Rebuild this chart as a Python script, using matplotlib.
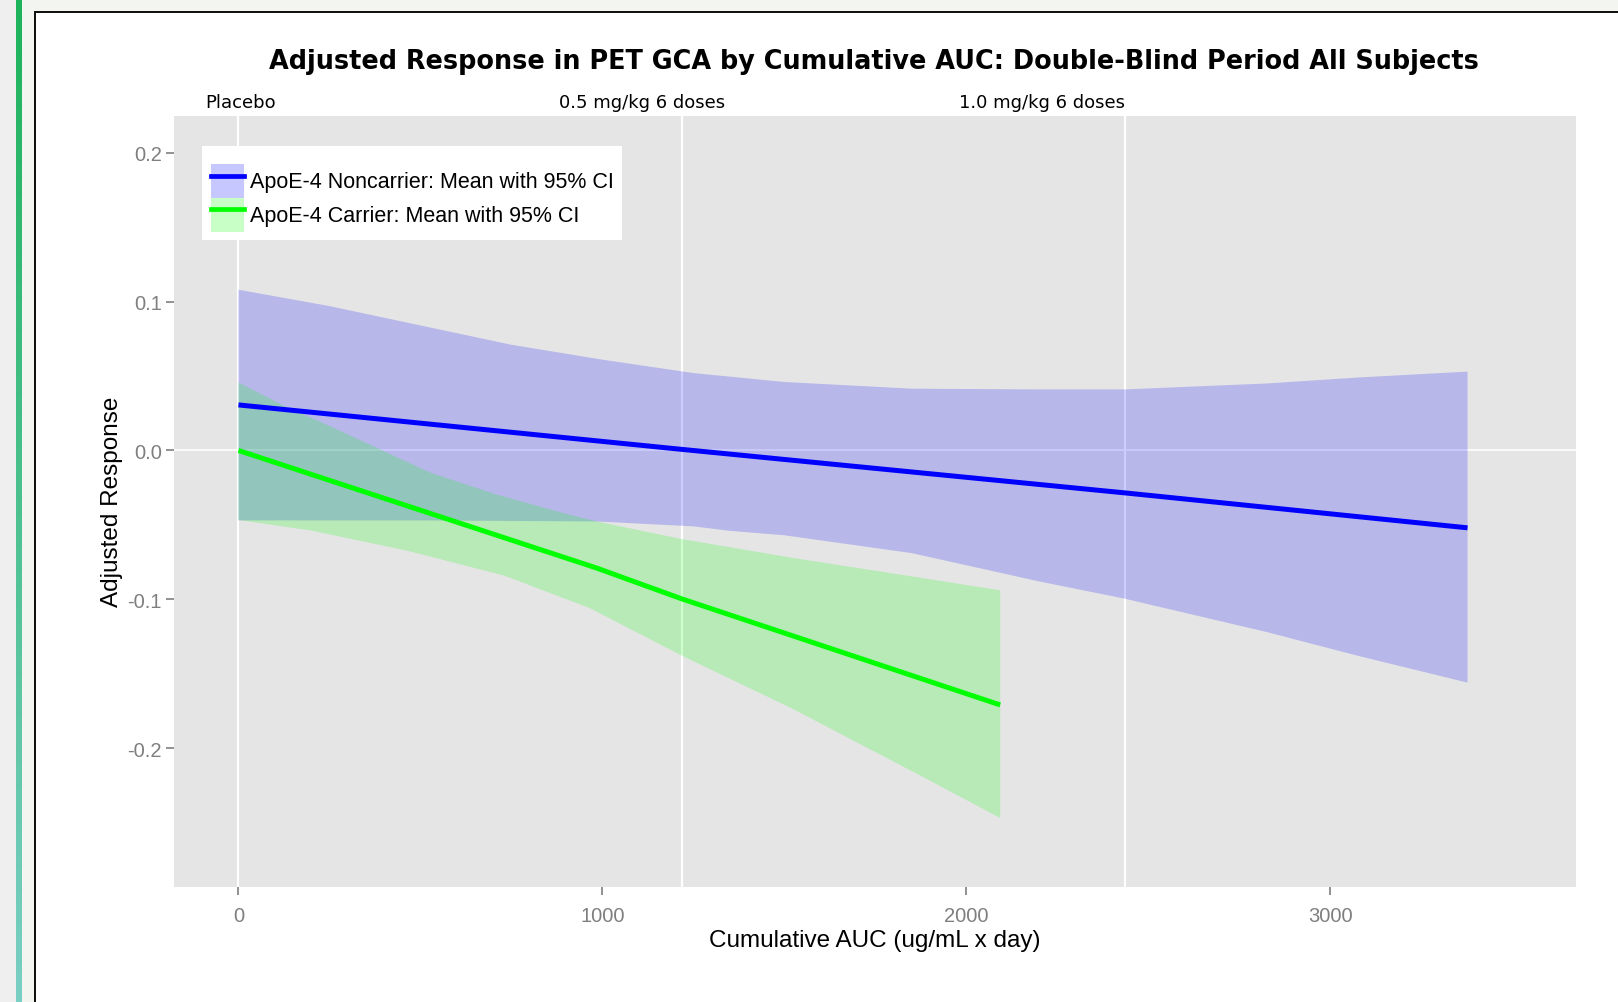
import matplotlib
matplotlib.use("Agg")
import matplotlib.pyplot as plt
import numpy as np
from matplotlib.patches import Rectangle, Patch
from matplotlib.lines import Line2D

plt.rcParams['axes.unicode_minus'] = False

# ---------------- data ----------------
title = "Adjusted Response in PET GCA by Cumulative AUC: Double-Blind Period All Subjects"
x_label = "Cumulative AUC (ug/mL x day)"
y_label = "Adjusted Response"

x_ticks = [0, 1000, 2000, 3000]
y_ticks = [-0.2, -0.1, 0.0, 0.1, 0.2]

dose_labels = ["Placebo", "0.5 mg/kg 6 doses", "1.0 mg/kg 6 doses"]
dose_label_x = [6, 1109, 2209]
dose_lines_x = [0, 1219, 2435]

# ApoE-4 noncarrier
nc_upper_x = [0, 250, 500, 750, 1000, 1250, 1500, 1850, 2200, 2435, 2825, 3076, 3377]
nc_upper = [0.108, 0.097, 0.084, 0.071, 0.061, 0.052, 0.046, 0.0415, 0.041, 0.041, 0.045, 0.049, 0.053]
nc_lower_x = [0, 500, 984, 1250, 1350, 1500, 1850, 2200, 2435, 2825, 3076, 3377]
nc_lower = [-0.047, -0.047, -0.0477, -0.051, -0.054, -0.057, -0.069, -0.088, -0.0996, -0.122, -0.138, -0.156]
nc_mean_x = [0, 1219, 2435, 3377]
nc_mean = [0.0306, 0.0007, -0.0285, -0.0520]

# ApoE-4 carrier
c_upper_x = [0, 125, 251, 389, 526, 709, 892, 984, 1219, 1350, 1518, 1870, 2093]
c_upper = [0.0456, 0.030, 0.0164, 0.0007, -0.0148, -0.0296, -0.042, -0.0477, -0.0596, -0.065, -0.072, -0.0854, -0.094]
c_lower_x = [0, 204, 466, 729, 966, 1219, 1518, 1870, 2093]
c_lower = [-0.0467, -0.054, -0.0675, -0.084, -0.106, -0.138, -0.173, -0.218, -0.247]
c_mean_x = [0, 984, 1219, 2093]
c_mean = [0.0, -0.079, -0.0998, -0.171]

legend_labels = ["ApoE-4 Noncarrier: Mean with 95% CI", "ApoE-4 Carrier: Mean with 95% CI"]

# ---------------- figure ----------------
W, H = 1618, 1003
fig = plt.figure(figsize=(W / 100, H / 100), dpi=100)
fig.patch.set_facecolor("white")

def frect(x0, y0, x1, y1, color, z=0):
    # pixel coords (top-left origin) -> figure fraction
    fig.add_artist(Rectangle((x0 / W, 1 - y1 / H), (x1 - x0) / W, (y1 - y0) / H,
                             transform=fig.transFigure, facecolor=color,
                             edgecolor="none", zorder=z))

frect(0, 0, 16, H, "#efefef")
frect(21, 0, W, 12, "#f3f6f0")
frect(21, 0, 34, H, "#f3f6f0")
frect(34, 12, W, 14, "#111111", 1)
frect(34, 12, 36, H, "#111111", 1)

# green gradient bar
gax = fig.add_axes([16 / W, 0, 5 / W, 1])
grad = np.linspace(0, 1, 256).reshape(-1, 1)
top = np.array([0x1d, 0xb3, 0x5a]) / 255
bot = np.array([0x7a, 0xcf, 0xc4]) / 255
img = top[None, None, :] * (1 - grad[:, :, None]) + bot[None, None, :] * grad[:, :, None]
gax.imshow(img, aspect="auto", extent=[0, 1, 0, 1], origin="upper")
gax.axis("off")

# ---------------- main axes ----------------
ax_l, ax_r, ax_t, ax_b = 174.4, 1576, 116.6, 887.5
ax = fig.add_axes([ax_l / W, 1 - ax_b / H, (ax_r - ax_l) / W, (ax_b - ax_t) / H])
ax.set_facecolor("#e5e5e5")
ax.set_xlim(-176, 3675)
ax.set_ylim(-0.293, 0.225)
for s in ax.spines.values():
    s.set_visible(False)

for xv in dose_lines_x:
    ax.axvline(xv, color="white", lw=1.6, zorder=1)
ax.axhline(0, color="white", lw=1.2, zorder=1)

ax.fill(list(nc_upper_x) + list(nc_lower_x[::-1]), list(nc_upper) + list(nc_lower[::-1]),
        color="#0000ff", alpha=0.2, lw=0, zorder=2)
ax.fill(list(c_upper_x) + list(c_lower_x[::-1]), list(c_upper) + list(c_lower[::-1]),
        color="#00ff00", alpha=0.2, lw=0, zorder=2)
ax.plot(nc_mean_x, nc_mean, color="#0000ff", lw=3.6, zorder=3, solid_capstyle="butt")
ax.plot(c_mean_x, c_mean, color="#00ff00", lw=3.6, zorder=3, solid_capstyle="butt")

ax.set_xticks(x_ticks)
ax.set_xticklabels([str(v) for v in x_ticks])
ax.set_yticks(y_ticks)
ax.set_yticklabels(["%.1f" % v for v in y_ticks])
ax.tick_params(axis="both", colors="#7f7f7f", labelcolor="#7f7f7f", length=6, width=1.2,
               labelsize=14.5, direction="out")
ax.tick_params(axis="x", pad=8)
ax.tick_params(axis="y", pad=3)
for lab in ax.get_xticklabels() + ax.get_yticklabels():
    lab.set_family("Liberation Sans")

ax.set_xlabel(x_label, fontsize=17.5, family="Liberation Sans", color="black", labelpad=3)
ax.set_ylabel(y_label, fontsize=17.5, family="Liberation Sans", color="black", labelpad=3)

# dose labels above panel
for lx, lt in zip(dose_label_x, dose_labels):
    ax.text(lx, 1.0 + 0.018, lt, transform=ax.get_xaxis_transform(), ha="center", va="center",
            fontsize=13, family="DejaVu Sans", color="black")

fig.text(874 / W, 1 - 62 / H, title, ha="center", va="center", fontsize=18.4,
         fontweight="bold", family="DejaVu Sans", color="black")

# legend
handles = [
    (Patch(facecolor="#0000ff", alpha=0.22, edgecolor="none"), Line2D([], [], color="#0000ff", lw=3.4)),
    (Patch(facecolor="#00ff00", alpha=0.22, edgecolor="none"), Line2D([], [], color="#00ff00", lw=3.4)),
]
leg = ax.legend(handles, legend_labels, loc="upper left", bbox_to_anchor=(0.020, 0.960),
                borderaxespad=0, frameon=True, fancybox=False, framealpha=1,
                prop={"family": "Liberation Sans", "size": 15.5},
                handlelength=1.53, handleheight=2.05, labelspacing=0.0, handletextpad=0.3,
                borderpad=0.38, title=" ", title_fontsize=6)
leg.get_frame().set_facecolor("white")
leg.get_frame().set_edgecolor("none")

fig.savefig("out.png", dpi=100)
